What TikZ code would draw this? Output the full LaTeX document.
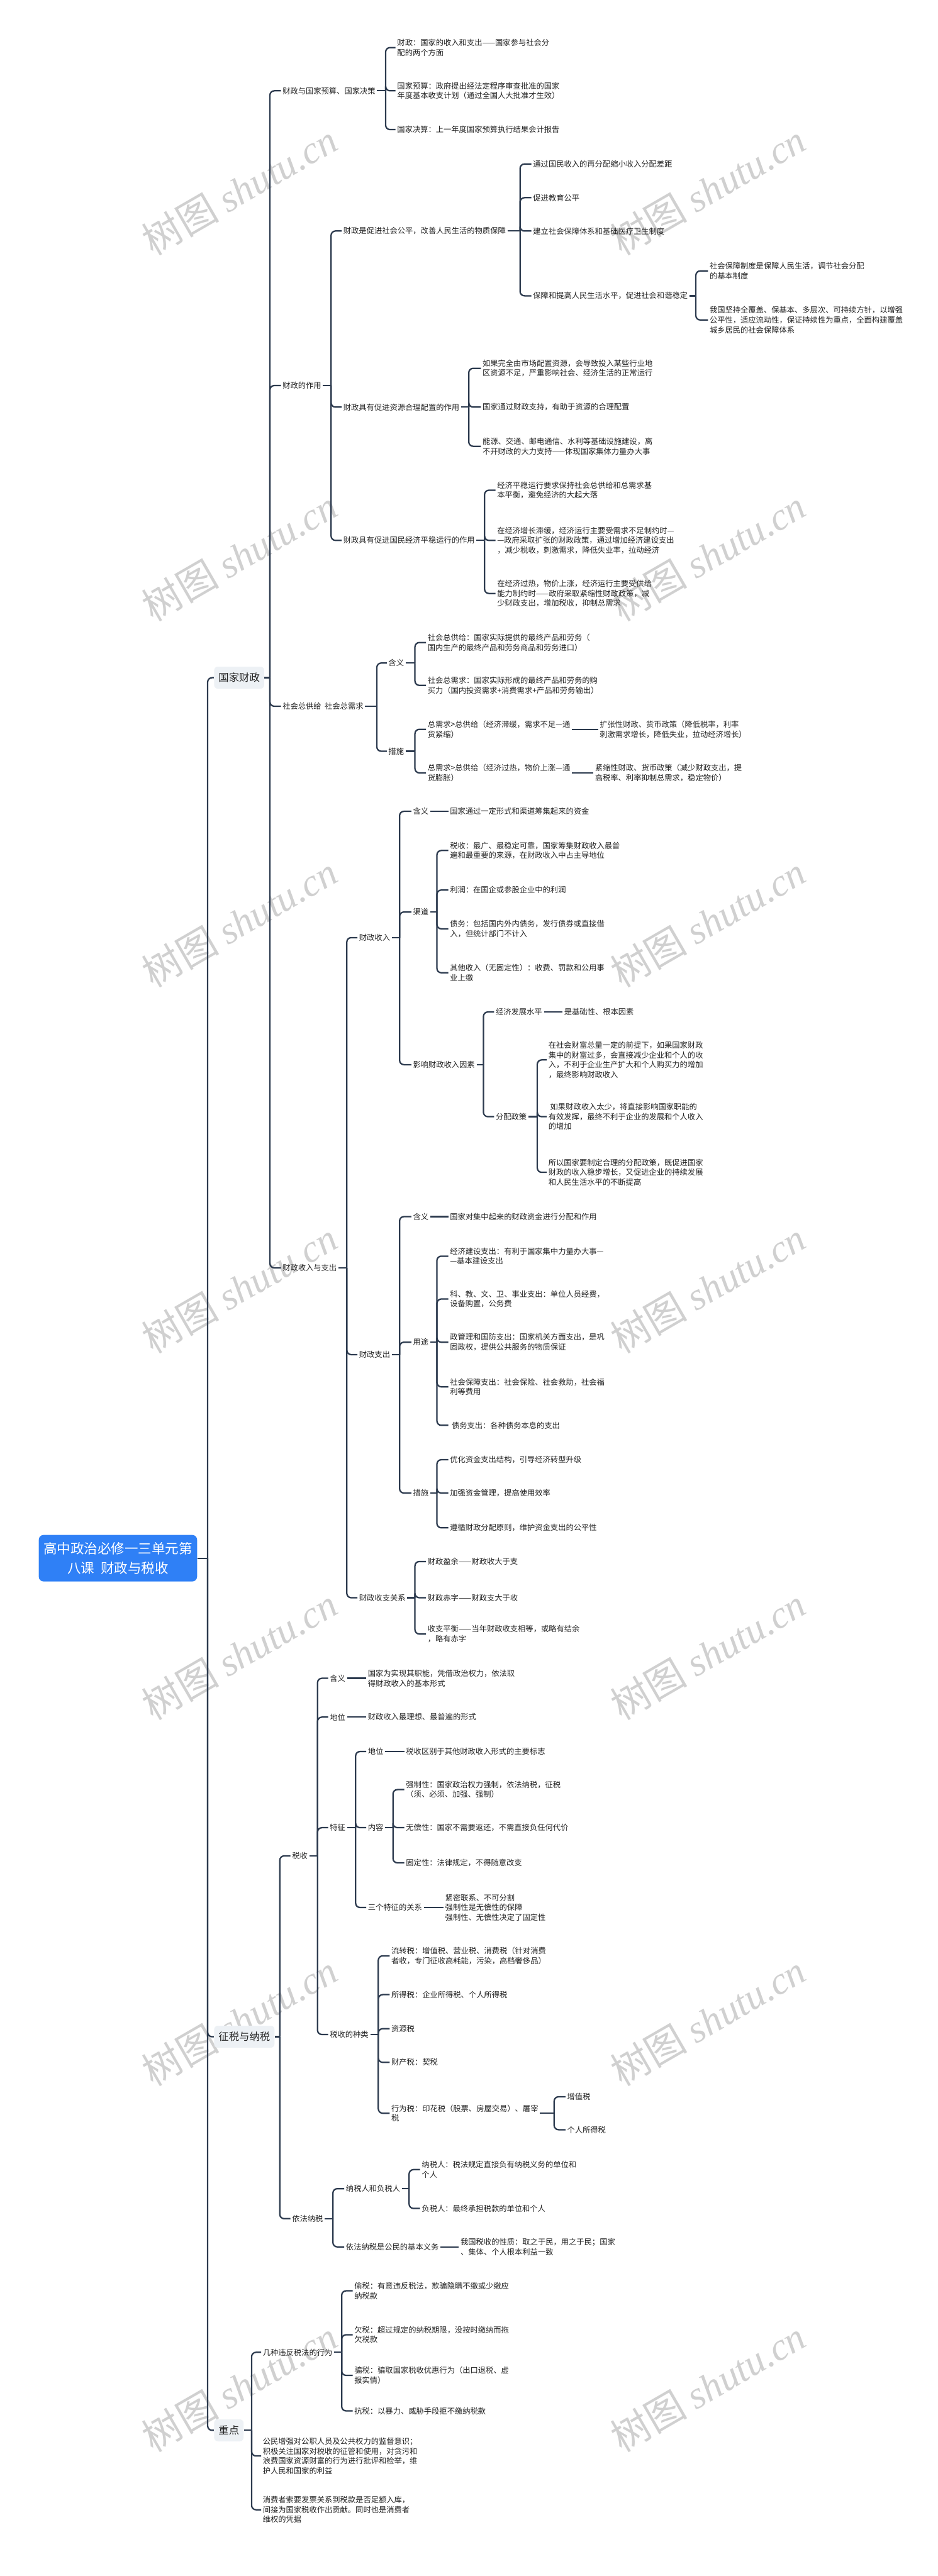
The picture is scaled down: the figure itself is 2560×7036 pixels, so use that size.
\documentclass[tikz,border=0pt]{standalone}
\usepackage{fontspec}
\setmainfont{Noto Sans CJK SC}
\newfontfamily\wmlatin{Liberation Serif}
\usepackage{xcolor}

\definecolor{linec}{RGB}{44,58,78}
\definecolor{textc}{RGB}{34,34,34}
\definecolor{rootc}{RGB}{47,128,246}
\definecolor{topicc}{RGB}{237,241,245}
\definecolor{markc}{RGB}{208,208,208}

\begin{document}
\begin{tikzpicture}[x=0.01cm, y=-0.01cm,
  link/.style={draw=linec, line width=1.1pt, rounded corners=0.12cm},
  leaf/.style={anchor=west, align=left, inner xsep=0.04cm, inner ysep=0.02cm, text=textc, font=\fontsize{6}{7.6}\selectfont},
  topic/.style={anchor=west, fill=topicc, rounded corners=0.1cm, inner xsep=0.12cm, inner ysep=0.17cm, text=textc, font=\fontsize{8}{10}\selectfont},
  rootbox/.style={fill=rootc, rounded corners=0.13cm, text=white, align=center, inner xsep=0.13cm, inner ysep=0.2cm, font=\fontsize{10.5}{15}\selectfont},
  wmark/.style={text=markc, rotate=30, inner sep=0, font=\fontsize{30}{30}\selectfont}]
\useasboundingbox (0,0) rectangle (2560,7036);
\fill[white] (0,0) rectangle (2560,7036);

% watermarks
\foreach \wy [count=\i] in {518,1518,2518,3518,4518,5518,6518} {
  \node[wmark] (wl\i) at (654,\wy) {树图 {\wmlatin\itshape shutu.cn}};
  \node[wmark] (wr\i) at (1933,\wy) {树图 {\wmlatin\itshape shutu.cn}};
}

% root and main topics
\node[rootbox] (root) at (322,4256) {高中政治必修一三单元第\\八课 \ 财政与税收};
\node[topic] (gjcz) at (584,1851) {国家财政};
\node[topic] (zsns) at (584,5563) {征税与纳税};
\node[topic] (zd) at (584,6638) {重点};
\coordinate (rootb) at (567,4256);
\draw[link] (root.east) -- (rootb);
\foreach \c in {gjcz,zsns,zd} \draw[link] (rootb) |- (\c.west);

% ---- 国家财政
\node[leaf] (czys) at (767,248) {财政与国家预算、国家决策};
\node[leaf] (czzy) at (767,1053) {财政的作用};
\node[leaf] (zgzx) at (767,1929) {社会总供给 \ 社会总需求};
\node[leaf] (srzc) at (767,3463) {财政收入与支出};
\coordinate (gjczb) at (737,1851);
\draw[link] (gjcz.east) -- (gjczb);
\foreach \c in {czys,czzy,zgzx,srzc} \draw[link] (gjczb) |- (\c.west);

% 财政与国家预算
\node[leaf] (czys1) at (1080,130) {财政：国家的收入和支出——国家参与社会分\\配的两个方面};
\node[leaf] (czys2) at (1080,248) {国家预算：政府提出经法定程序审查批准的国家\\年度基本收支计划（通过全国人大批准才生效）};
\node[leaf] (czys3) at (1080,354) {国家决算：上一年度国家预算执行结果会计报告};
\coordinate (czysb) at (1053,248);
\draw[link] (czys.east) -- (czysb);
\foreach \c in {czys1,czys2,czys3} \draw[link] (czysb) |- (\c.west);

% 财政的作用
\node[leaf] (gp) at (933,631) {财政是促进社会公平，改善人民生活的物质保障};
\node[leaf] (zy) at (933,1112) {财政具有促进资源合理配置的作用};
\node[leaf] (jj) at (933,1476) {财政具有促进国民经济平稳运行的作用};
\coordinate (czzyb) at (904,1053);
\draw[link] (czzy.east) -- (czzyb);
\foreach \c in {gp,zy,jj} \draw[link] (czzyb) |- (\c.west);

\node[leaf] (gp1) at (1451,448) {通过国民收入的再分配缩小收入分配差距};
\node[leaf] (gp2) at (1451,540) {促进教育公平};
\node[leaf] (gp3) at (1451,631) {建立社会保障体系和基础医疗卫生制度};
\node[leaf] (gp4) at (1451,808) {保障和提高人民生活水平，促进社会和谐稳定};
\coordinate (gpb) at (1420,631);
\draw[link] (gp.east) -- (gpb);
\foreach \c in {gp1,gp2,gp3,gp4} \draw[link] (gpb) |- (\c.west);

\node[leaf] (gp41) at (1933,740) {社会保障制度是保障人民生活，调节社会分配\\的基本制度};
\node[leaf] (gp42) at (1933,874) {我国坚持全覆盖、保基本、多层次、可持续方针，以增强\\公平性，适应流动性，保证持续性为重点，全面构建覆盖\\城乡居民的社会保障体系};
\coordinate (gp4b) at (1900,808);
\draw[link] (gp4.east) -- (gp4b);
\foreach \c in {gp41,gp42} \draw[link] (gp4b) |- (\c.west);

\node[leaf] (zy1) at (1313,1006) {如果完全由市场配置资源，会导致投入某些行业地\\区资源不足，严重影响社会、经济生活的正常运行};
\node[leaf] (zy2) at (1313,1112) {国家通过财政支持，有助于资源的合理配置};
\node[leaf] (zy3) at (1313,1219) {能源、交通、邮电通信、水利等基础设施建设，离\\不开财政的大力支持——体现国家集体力量办大事};
\coordinate (zyb) at (1280,1112);
\draw[link] (zy.east) -- (zyb);
\foreach \c in {zy1,zy2,zy3} \draw[link] (zyb) |- (\c.west);

\node[leaf] (jj1) at (1353,1339) {经济平稳运行要求保持社会总供给和总需求基\\本平衡，避免经济的大起大落};
\node[leaf] (jj2) at (1353,1476) {在经济增长滞缓，经济运行主要受需求不足制约时—\\—政府采取扩张的财政政策，通过增加经济建设支出\\，减少税收，刺激需求，降低失业率，拉动经济};
\node[leaf] (jj3) at (1353,1621) {在经济过热，物价上涨，经济运行主要受供给\\能力制约时——政府采取紧缩性财政政策，减\\少财政支出，增加税收，抑制总需求};
\coordinate (jjb) at (1323,1476);
\draw[link] (jj.east) -- (jjb);
\foreach \c in {jj1,jj2,jj3} \draw[link] (jjb) |- (\c.west);

% 社会总供给 社会总需求
\node[leaf] (hy) at (1056,1811) {含义};
\node[leaf] (cs) at (1056,2052) {措施};
\coordinate (zgzxb) at (1029,1929);
\draw[link] (zgzx.east) -- (zgzxb);
\foreach \c in {hy,cs} \draw[link] (zgzxb) |- (\c.west);

\node[leaf] (hy1) at (1163,1755) {社会总供给：国家实际提供的最终产品和劳务（\\国内生产的最终产品和劳务商品和劳务进口）};
\node[leaf] (hy2) at (1163,1872) {社会总需求：国家实际形成的最终产品和劳务的购\\买力（国内投资需求+消费需求+产品和劳务输出）};
\coordinate (hyb) at (1133,1811);
\draw[link] (hy.east) -- (hyb);
\foreach \c in {hy1,hy2} \draw[link] (hyb) |- (\c.west);

\node[leaf] (cs1) at (1163,1992) {总需求>总供给（经济滞缓，需求不足—通\\货紧缩）};
\node[leaf] (cs2) at (1163,2111) {总需求>总供给（经济过热，物价上涨—通\\货膨胀）};
\coordinate (csb) at (1133,2052);
\draw[link] (cs.east) -- (csb);
\foreach \c in {cs1,cs2} \draw[link] (csb) |- (\c.west);
\node[leaf] (cs1a) at (1633,1992) {扩张性财政、货币政策（降低税率，利率\\刺激需求增长，降低失业，拉动经济增长）};
\node[leaf] (cs2a) at (1620,2111) {紧缩性财政、货币政策（减少财政支出，提\\高税率、利率抑制总需求，稳定物价）};
\draw[link] (cs1.east) -- (cs1a.west);
\draw[link] (cs2.east) -- (cs2a.west);

% 财政收入与支出
\node[leaf] (sr) at (976,2561) {财政收入};
\node[leaf] (zc) at (976,3700) {财政支出};
\node[leaf] (gx) at (976,4364) {财政收支关系};
\coordinate (srzcb) at (947,3463);
\draw[link] (srzc.east) -- (srzcb);
\foreach \c in {sr,zc,gx} \draw[link] (srzcb) |- (\c.west);

\node[leaf] (srhy) at (1123,2216) {含义};
\node[leaf] (qd) at (1123,2491) {渠道};
\node[leaf] (ys) at (1123,2908) {影响财政收入因素};
\coordinate (srb) at (1091,2561);
\draw[link] (sr.east) -- (srb);
\foreach \c in {srhy,qd,ys} \draw[link] (srb) |- (\c.west);
\node[leaf] (srhy1) at (1224,2216) {国家通过一定形式和渠道筹集起来的资金};
\draw[link] (srhy.east) -- (srhy1.west);

\node[leaf] (qd1) at (1224,2323) {税收：最广、最稳定可靠，国家筹集财政收入最普\\遍和最重要的来源，在财政收入中占主导地位};
\node[leaf] (qd2) at (1224,2431) {利润：在国企或参股企业中的利润};
\node[leaf] (qd3) at (1224,2537) {债务：包括国内外内债务，发行债券或直接借\\入，但统计部门不计入};
\node[leaf] (qd4) at (1224,2657) {其他收入（无固定性）：收费、罚款和公用事\\业上缴};
\coordinate (qdb) at (1193,2491);
\draw[link] (qd.east) -- (qdb);
\foreach \c in {qd1,qd2,qd3,qd4} \draw[link] (qdb) |- (\c.west);

\node[leaf] (ys1) at (1349,2764) {经济发展水平};
\node[leaf] (ys2) at (1349,3050) {分配政策};
\coordinate (ysb) at (1320,2908);
\draw[link] (ys.east) -- (ysb);
\foreach \c in {ys1,ys2} \draw[link] (ysb) |- (\c.west);
\node[leaf] (ys1a) at (1536,2764) {是基础性、根本因素};
\draw[link] (ys1.east) -- (ys1a.west);

\node[leaf] (fp1) at (1493,2895) {在社会财富总量一定的前提下，如果国家财政\\集中的财富过多，会直接减少企业和个人的收\\入，不利于企业生产扩大和个人购买力的增加\\，最终影响财政收入};
\node[leaf] (fp2) at (1493,3050) {\ 如果财政收入太少，将直接影响国家职能的\\有效发挥，最终不利于企业的发展和个人收入\\的增加};
\node[leaf] (fp3) at (1493,3202) {所以国家要制定合理的分配政策，既促进国家\\财政的收入稳步增长，又促进企业的持续发展\\和人民生活水平的不断提高};
\coordinate (ys2b) at (1467,3050);
\draw[link] (ys2.east) -- (ys2b);
\foreach \c in {fp1,fp2,fp3} \draw[link] (ys2b) |- (\c.west);

\node[leaf] (zchy) at (1123,3323) {含义};
\node[leaf] (yt) at (1123,3666) {用途};
\node[leaf] (zccs) at (1123,4078) {措施};
\coordinate (zcb) at (1091,3700);
\draw[link] (zc.east) -- (zcb);
\foreach \c in {zchy,yt,zccs} \draw[link] (zcb) |- (\c.west);
\node[leaf] (zchy1) at (1224,3323) {国家对集中起来的财政资金进行分配和作用};
\draw[link] (zchy.east) -- (zchy1.west);

\node[leaf] (yt1) at (1224,3431) {经济建设支出：有利于国家集中力量办大事—\\—基本建设支出};
\node[leaf] (yt2) at (1224,3548) {科、教、文、卫、事业支出：单位人员经费，\\设备购置，公务费};
\node[leaf] (yt3) at (1224,3666) {政管理和国防支出：国家机关方面支出，是巩\\固政权，提供公共服务的物质保证};
\node[leaf] (yt4) at (1224,3788) {社会保障支出：社会保险、社会救助，社会福\\利等费用};
\node[leaf] (yt5) at (1224,3893) {\ 债务支出：各种债务本息的支出};
\coordinate (ytb) at (1193,3666);
\draw[link] (yt.east) -- (ytb);
\foreach \c in {yt1,yt2,yt3,yt4,yt5} \draw[link] (ytb) |- (\c.west);

\node[leaf] (zccs1) at (1224,3987) {优化资金支出结构，引导经济转型升级};
\node[leaf] (zccs2) at (1224,4078) {加强资金管理，提高使用效率};
\node[leaf] (zccs3) at (1224,4173) {遵循财政分配原则，维护资金支出的公平性};
\coordinate (zccsb) at (1193,4078);
\draw[link] (zccs.east) -- (zccsb);
\foreach \c in {zccs1,zccs2,zccs3} \draw[link] (zccsb) |- (\c.west);

\node[leaf] (gx1) at (1163,4265) {财政盈余——财政收大于支};
\node[leaf] (gx2) at (1163,4364) {财政赤字——财政支大于收};
\node[leaf] (gx3) at (1163,4463) {收支平衡——当年财政收支相等，或略有结余\\，略有赤字};
\coordinate (gxb) at (1133,4364);
\draw[link] (gx.east) -- (gxb);
\foreach \c in {gx1,gx2,gx3} \draw[link] (gxb) |- (\c.west);

% ---- 征税与纳税
\node[leaf] (ss) at (793,5069) {税收};
\node[leaf] (ns) at (793,6060) {依法纳税};
\coordinate (zsnsb) at (764,5563);
\draw[link] (zsns.east) -- (zsnsb);
\foreach \c in {ss,ns} \draw[link] (zsnsb) |- (\c.west);

\node[leaf] (sshy) at (896,4584) {含义};
\node[leaf] (ssdw) at (896,4690) {地位};
\node[leaf] (tz) at (896,4992) {特征};
\node[leaf] (zl) at (896,5557) {税收的种类};
\coordinate (ssb) at (867,5069);
\draw[link] (ss.east) -- (ssb);
\foreach \c in {sshy,ssdw,tz,zl} \draw[link] (ssb) |- (\c.west);
\node[leaf] (sshy1) at (1000,4584) {国家为实现其职能，凭借政治权力，依法取\\得财政收入的基本形式};
\node[leaf] (ssdw1) at (1000,4690) {财政收入最理想、最普遍的形式};
\draw[link] (sshy.east) -- (sshy1.west);
\draw[link] (ssdw.east) -- (ssdw1.west);

\node[leaf] (tzdw) at (1000,4784) {地位};
\node[leaf] (nr) at (1000,4992) {内容};
\node[leaf] (tzgx) at (1000,5210) {三个特征的关系};
\coordinate (tzb) at (971,4992);
\draw[link] (tz.east) -- (tzb);
\foreach \c in {tzdw,nr,tzgx} \draw[link] (tzb) |- (\c.west);
\node[leaf] (tzdw1) at (1104,4784) {税收区别于其他财政收入形式的主要标志};
\draw[link] (tzdw.east) -- (tzdw1.west);
\node[leaf] (tzgx1) at (1211,5210) {紧密联系、不可分割\\强制性是无偿性的保障\\强制性、无偿性决定了固定性};
\draw[link] (tzgx.east) -- (tzgx1.west);

\node[leaf] (nr1) at (1104,4888) {强制性：国家政治权力强制，依法纳税，征税\\（须、必须、加强、强制）};
\node[leaf] (nr2) at (1104,4992) {无偿性：国家不需要返还，不需直接负任何代价};
\node[leaf] (nr3) at (1104,5088) {固定性：法律规定，不得随意改变};
\coordinate (nrb) at (1073,4992);
\draw[link] (nr.east) -- (nrb);
\foreach \c in {nr1,nr2,nr3} \draw[link] (nrb) |- (\c.west);

\node[leaf] (zl1) at (1064,5342) {流转税：增值税、营业税、消费税（针对消费\\者收，专门征收高耗能，污染，高档奢侈品）};
\node[leaf] (zl2) at (1064,5448) {所得税：企业所得税、个人所得税};
\node[leaf] (zl3) at (1064,5541) {资源税};
\node[leaf] (zl4) at (1064,5633) {财产税：契税};
\node[leaf] (zl5) at (1064,5772) {行为税：印花税（股票、房屋交易）、屠宰\\税};
\coordinate (zlb) at (1033,5557);
\draw[link] (zl.east) -- (zlb);
\foreach \c in {zl1,zl2,zl3,zl4,zl5} \draw[link] (zlb) |- (\c.west);
\node[leaf] (zl51) at (1544,5727) {增值税};
\node[leaf] (zl52) at (1544,5817) {个人所得税};
\coordinate (zl5b) at (1513,5772);
\draw[link] (zl5.east) -- (zl5b);
\foreach \c in {zl51,zl52} \draw[link] (zl5b) |- (\c.west);

\node[leaf] (nsr) at (940,5978) {纳税人和负税人};
\node[leaf] (yw) at (940,6137) {依法纳税是公民的基本义务};
\coordinate (nsb) at (909,6060);
\draw[link] (ns.east) -- (nsb);
\foreach \c in {nsr,yw} \draw[link] (nsb) |- (\c.west);
\node[leaf] (nsr1) at (1147,5926) {纳税人：税法规定直接负有纳税义务的单位和\\个人};
\node[leaf] (nsr2) at (1147,6032) {负税人：最终承担税款的单位和个人};
\coordinate (nsrb) at (1117,5978);
\draw[link] (nsr.east) -- (nsrb);
\foreach \c in {nsr1,nsr2} \draw[link] (nsrb) |- (\c.west);
\node[leaf] (yw1) at (1253,6137) {我国税收的性质：取之于民，用之于民；国家\\、集体、个人根本利益一致};
\draw[link] (yw.east) -- (yw1.west);

% ---- 重点
\node[leaf] (wf) at (713,6425) {几种违反税法的行为};
\node[leaf] (zd2) at (713,6708) {公民增强对公职人员及公共权力的监督意识；\\积极关注国家对税收的征管和使用，对贪污和\\浪费国家资源财富的行为进行批评和检举，维\\护人民和国家的利益};
\node[leaf] (zd3) at (713,6855) {消费者索要发票关系到税款是否足额入库，\\间接为国家税收作出贡献。同时也是消费者\\维权的凭据};
\coordinate (zdb) at (687,6638);
\draw[link] (zd.east) -- (zdb);
\foreach \c in {wf,zd2,zd3} \draw[link] (zdb) |- (\c.west);

\node[leaf] (wf1) at (963,6257) {偷税：有意违反税法，欺骗隐瞒不缴或少缴应\\纳税款};
\node[leaf] (wf2) at (963,6377) {欠税：超过规定的纳税期限，没按时缴纳而拖\\欠税款};
\node[leaf] (wf3) at (963,6488) {骗税：骗取国家税收优惠行为（出口退税、虚\\报实情）};
\node[leaf] (wf4) at (963,6585) {抗税：以暴力、威胁手段拒不缴纳税款};
\coordinate (wfb) at (933,6425);
\draw[link] (wf.east) -- (wfb);
\foreach \c in {wf1,wf2,wf3,wf4} \draw[link] (wfb) |- (\c.west);
\end{tikzpicture}
\end{document}
